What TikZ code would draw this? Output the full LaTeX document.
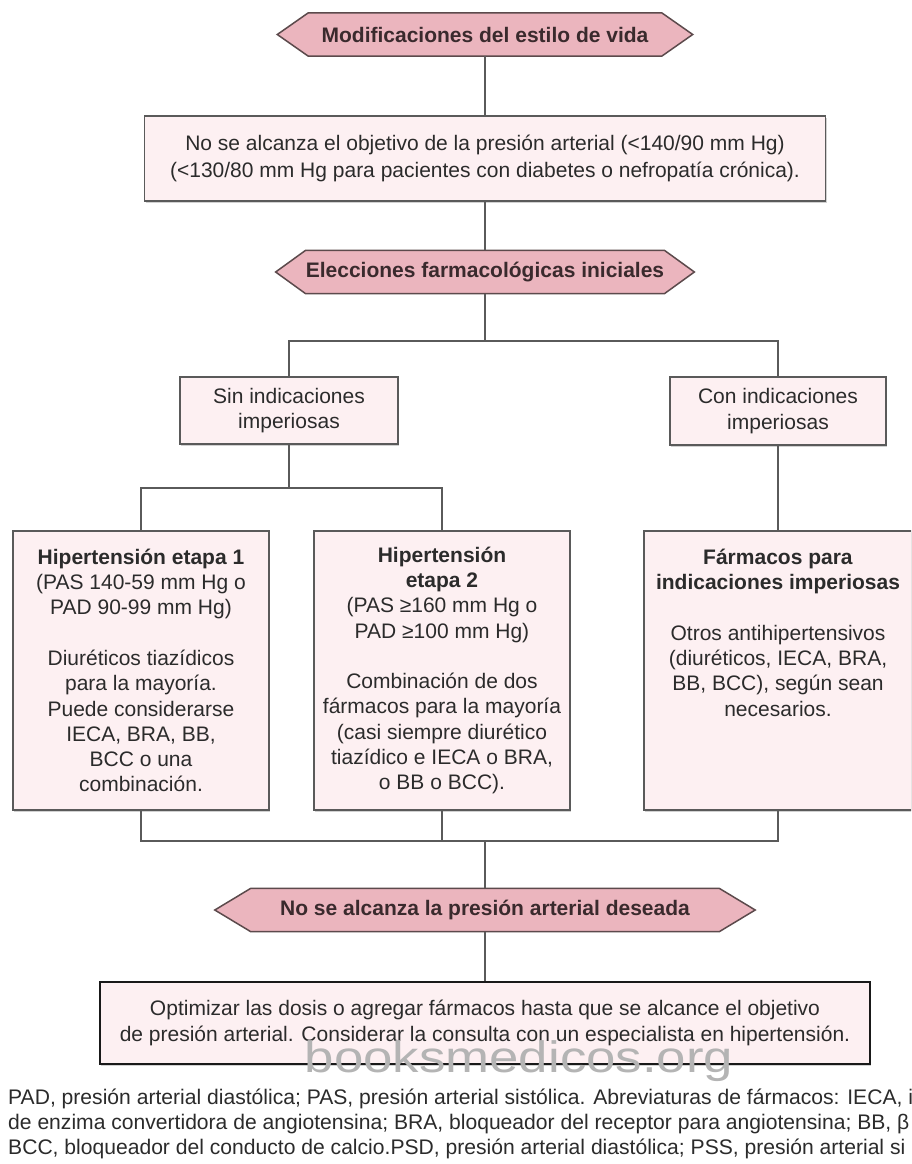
\documentclass[tikz,border=0pt]{standalone}
\usepackage{fontspec}
\setmainfont{Liberation Sans}
\usetikzlibrary{backgrounds,shadows}
\definecolor{hexfill}{HTML}{EBB5BE}
\definecolor{hexline}{HTML}{5C4A4C}
\definecolor{hextext}{HTML}{3A2A2D}
\definecolor{boxfill}{HTML}{FDF0F2}
\definecolor{boxline}{HTML}{5A5A5A}
\definecolor{txt}{HTML}{2B2B2B}
\definecolor{wmark}{HTML}{B4B4B4}
\begin{document}
\begin{tikzpicture}[x=1pt,y=-1pt,
  hexsty/.style={fill=hexfill, draw=hexline, line width=1.5pt, line join=miter},
  hexnode/.style={inner sep=0pt, minimum height=43pt, font=\fontsize{21}{25}\selectfont\bfseries, text=hextext},
  box/.style={draw=boxline, fill=boxfill, line width=1.3pt, inner sep=0pt, align=center,
    font=\fontsize{21}{25.3}\selectfont, text=txt,
    drop shadow={shadow xshift=1pt, shadow yshift=-1.5pt, fill=black, opacity=0.18}},
  conn/.style={draw=boxline, line width=1.4pt}]
\useasboundingbox (0,0) rectangle (911,1164);
\clip (0,0) rectangle (911,1164);

% hexagon labels
\node[hexnode, minimum width=353pt] (h1) at (485,34.5) {Modificaciones del estilo de vida};
\node[hexnode, minimum width=354pt] (h2) at (485,272) {Elecciones farmacológicas iniciales};
\node[hexnode, minimum width=468pt] (h3) at (485,910) {No se alcanza la presión arterial deseada};
\begin{scope}[on background layer]
\fill[white] (0,0) rectangle (911,1164);
\foreach \n/\d in {h1/31,h2/30,h3/36}{
  \path[hexsty] (\n.north west) -- (\n.north east) -- ([xshift=\d pt]\n.east) -- (\n.south east)
    -- (\n.south west) -- ([xshift=-\d pt]\n.west) -- cycle;}
\end{scope}

% boxes
\node[box, minimum width=681pt, minimum height=85pt, font=\fontsize{21}{27}\selectfont] (b2) at (485,158.5)
  {No se alcanza el objetivo de la presión arterial (<140/90 mm Hg)\\(<130/80 mm Hg para pacientes con diabetes o nefropatía crónica).};
\node[box, minimum width=218pt, minimum height=67pt] (sin) at (289,410.5) {Sin indicaciones\\imperiosas};
\node[box, minimum width=216pt, minimum height=68pt] (con) at (778,411) {Con indicaciones\\imperiosas};
\node[box, minimum width=256pt, minimum height=279pt] (e1) at (141,670.5)
  {\textbf{Hipertensión etapa 1}\\(PAS 140-59 mm Hg o\\PAD 90-99 mm Hg)\\[25.3pt]Diuréticos tiazídicos\\para la mayoría.\\Puede considerarse\\IECA, BRA, BB,\\BCC o una\\combinación.};
\node[box, minimum width=256pt, minimum height=279pt] (e2) at (442,670.5)
  {\textbf{Hipertensión}\\\textbf{etapa 2}\\(PAS ≥160 mm Hg o\\PAD ≥100 mm Hg)\\[25.3pt]Combinación de dos\\fármacos para la mayoría\\(casi siempre diurético\\tiazídico e IECA o BRA,\\o BB o BCC).};
\node[box, minimum width=268pt, minimum height=279pt] (e3) at (778,670.5)
  {\textbf{Fármacos para}\\\textbf{indicaciones imperiosas}\\[25.3pt]Otros antihipertensivos\\(diuréticos, IECA, BRA,\\BB, BCC), según sean\\necesarios.\\[50.6pt]~};
\node[box, draw=black!90, line width=2.8pt, minimum width=770pt, minimum height=82pt, font=\fontsize{21}{26}\selectfont] (fin) at (485,1023)
  {Optimizar las dosis o agregar fármacos hasta que se alcance el objetivo\\de presión arterial. Considerar la consulta con un especialista en hipertensión.};

% connectors
\coordinate (j1) at (485,341);
\coordinate (j2) at (289,488);
\coordinate (j3) at (485,841);
\draw[conn] (h1.south) -- (b2.north);
\draw[conn] (b2.south) -- (h2.north);
\draw[conn] (h2.south) -- (j1);
\draw[conn] (sin.north) |- (j1) -| (con.north);
\draw[conn] (sin.south) -- (j2);
\draw[conn] (e1.north) |- (j2) -| (e2.north);
\draw[conn] (con.south) -- (e3.north);
\draw[conn] (e1.south) |- (j3) -| (e3.south);
\draw[conn] (e2.south) -- (e2.south |- j3);
\draw[conn] (j3) -- (h3.north);
\draw[conn] (h3.south) -- (fin.north);

% watermark
\node[anchor=base, text=wmark, inner sep=0pt, font=\fontsize{44}{44}\selectfont] (wm) at (519,1072)
  {\scalebox{1.2}[1]{booksmedicos.org}};

% footer
\node[anchor=north west, inner sep=0pt, align=left, text=txt, font=\fontsize{21.1}{25}\selectfont] (foot) at (8,1089)
  {PAD, presión arterial diastólica; PAS, presión arterial sistólica. Abreviaturas de fármacos: IECA, i\\
   de enzima convertidora de angiotensina; BRA, bloqueador del receptor para angiotensina; BB, β\\
   BCC, bloqueador del conducto de calcio.PSD, presión arterial diastólica; PSS, presión arterial si};
\end{tikzpicture}
\end{document}
